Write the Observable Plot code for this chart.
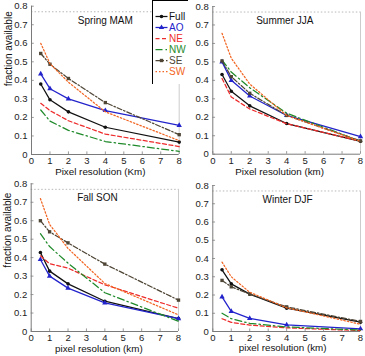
<!DOCTYPE html>
<html>
<head>
<meta charset="utf-8">
<script src="https://cdn.jsdelivr.net/npm/d3@7"></script>
<script src="https://cdn.jsdelivr.net/npm/@observablehq/plot@0.6"></script>
<style>
  html, body { margin: 0; padding: 0; background: #fff; overflow: hidden; }
  #chart { position: relative; width: 365px; height: 356px; overflow: hidden;
           font-family: "Liberation Sans", Arial, Helvetica, sans-serif; }
  #chart > svg { position: absolute; }
</style>
</head>
<body>
<div id="chart"></div>
<script>
// Pixel resolution (km) at which the fraction of available data was computed
const resolutionKm = [0.5, 1, 2, 4, 8];
const regions = ["Full", "AO", "NE", "NW", "SE", "SW"];
const xTicks = [0, 1, 2, 3, 4, 5, 6, 7, 8];
const yTicks = [0, 0.1, 0.2, 0.3, 0.4, 0.5, 0.6, 0.7, 0.8];

// Fraction available per region, one table per season
const springMAM = {
  Full: [0.38, 0.295, 0.23, 0.147, 0.067],
  AO:   [0.435, 0.355, 0.30, 0.237, 0.157],
  NE:   [0.276, 0.237, 0.182, 0.11, 0.043],
  NW:   [0.24, 0.18, 0.13, 0.07, 0.017],
  SE:   [0.545, 0.487, 0.41, 0.28, 0.107],
  SW:   [0.60, 0.49, 0.39, 0.23, 0.075]
};
const summerJJA = {
  Full: [0.432, 0.341, 0.262, 0.166, 0.07],
  AO:   [0.50, 0.40, 0.315, 0.21, 0.095],
  NE:   [0.41, 0.31, 0.245, 0.165, 0.07],
  NW:   [0.51, 0.445, 0.36, 0.222, 0.07],
  SE:   [0.505, 0.42, 0.33, 0.21, 0.072],
  SW:   [0.655, 0.52, 0.38, 0.21, 0.07]
};
const fallSON = {
  Full: [0.428, 0.327, 0.258, 0.164, 0.07],
  AO:   [0.39, 0.30, 0.235, 0.155, 0.07],
  NE:   [0.41, 0.367, 0.343, 0.253, 0.126],
  NW:   [0.53, 0.46, 0.37, 0.21, 0.055],
  SE:   [0.60, 0.54, 0.48, 0.365, 0.17],
  SW:   [0.72, 0.58, 0.45, 0.26, 0.09]
};
const winterDJF = {
  Full: [0.338, 0.261, 0.205, 0.128, 0.051],
  AO:   [0.19, 0.11, 0.072, 0.036, 0.015],
  NE:   [0.07, 0.05, 0.035, 0.02, 0.005],
  NW:   [0.10, 0.07, 0.045, 0.025, 0.008],
  SE:   [0.28, 0.245, 0.205, 0.135, 0.055],
  SW:   [0.38, 0.30, 0.215, 0.13, 0.04]
};

// Line style of each region
const regionStyle = {
  Full: { color: "#111111", dash: null,          symbol: "circle",   r: 1.8 },
  AO:   { color: "#2323cc", dash: null,          symbol: "triangle", r: 2.0 },
  NE:   { color: "#ee2b2b", dash: "4,2.5",       symbol: null },
  NW:   { color: "#1f8a2a", dash: "7,3,1.5,3",   symbol: null },
  SE:   { color: "#4e4535", dash: "5,2,1.5,2",   symbol: "square",   r: 1.9 },
  SW:   { color: "#f26522", dash: "1.5,2",       symbol: null }
};

const fmtY = d => d === 0 ? "0" : d3.format(".1f")(d);

function panel(cfg) {
  const rows = regions.flatMap(r =>
    cfg.values[r].map((v, i) => ({ region: r, km: resolutionKm[i], frac: v })));

  const marks = [
    // faint frame: dotted top line and right edge
    Plot.ruleY([0.77], { x1: 0, x2: 8, stroke: "#b8b8b8", strokeDasharray: "1.5,2" }),
    Plot.ruleX([8], { y1: 0, y2: 0.77, stroke: "#cccccc" }),
    // inward tick marks
    Plot.ruleY(yTicks, { x1: 0, x2: 0.15, stroke: "#9a9a9a" }),
    Plot.ruleX(xTicks, { y1: 0, y2: 0.014, stroke: "#9a9a9a" }),
    // axis lines
    Plot.ruleX([0], { y1: 0, y2: 0.8, stroke: "#7a7a7a" }),
    Plot.ruleY([0], { x1: 0, x2: 8, stroke: "#7a7a7a" }),
    Plot.axisX({ ticks: xTicks, tickSize: 0, tickPadding: 3, fontSize: 9.5, label: null }),
    Plot.axisY({ ticks: yTicks, tickSize: 0, tickPadding: 4, fontSize: 9.5, tickFormat: fmtY, label: null }),
    // season title
    Plot.text([cfg.title], { x: cfg.titleX, y: 0.722, fontSize: 10, fill: "#111" }),
    // x axis title
    Plot.text([cfg.xLabel], { frameAnchor: "bottom", dx: cfg.xLabelDx, dy: cfg.xLabelDy, fontSize: 9.8, fill: "#111" })
  ];
  if (cfg.yLabel) {
    marks.push(Plot.text([cfg.yLabel], {
      frameAnchor: "left", rotate: -90, dx: -23, dy: cfg.yLabelDy, fontSize: 10, fill: "#111"
    }));
  }
  for (const r of regions) {
    const s = regionStyle[r];
    const d = rows.filter(o => o.region === r);
    marks.push(Plot.line(d, {
      x: "km", y: "frac", stroke: s.color, strokeWidth: 1.25,
      strokeDasharray: s.dash ?? undefined
    }));
    if (s.symbol) {
      marks.push(Plot.dot(d, { x: "km", y: "frac", symbol: s.symbol, r: s.r, fill: s.color, stroke: "none" }));
    }
  }

  const svg = Plot.plot({
    width: cfg.width, height: cfg.height,
    marginLeft: cfg.ml, marginRight: cfg.mr, marginTop: cfg.mt, marginBottom: cfg.mb,
    x: { domain: [0, 8] },
    y: { domain: [0, 0.8] },
    style: { fontFamily: "Liberation Sans, Arial, sans-serif", color: "#222", background: "transparent" },
    marks
  });
  svg.style.left = cfg.left + "px";
  svg.style.top = cfg.top + "px";
  return svg;
}

// Legend key, built with Plot on an identity pixel scale
function legend() {
  const marks = [Plot.frame({ stroke: "#000", strokeWidth: 1 })];
  for (const r of regions) {
    const s = regionStyle[r];
    marks.push(Plot.link([r], {
      x1: () => 3, x2: () => 15, y1: d => d, y2: d => d,
      stroke: s.color, strokeWidth: 1.25, strokeDasharray: s.dash ?? undefined
    }));
    if (s.symbol) {
      marks.push(Plot.dot([r], { x: () => 9, y: d => d, symbol: s.symbol, r: s.r, fill: s.color }));
    }
    marks.push(Plot.text([r], { x: () => 16.5, y: d => d, text: d => d, textAnchor: "start", fill: s.color, fontSize: 10 }));
  }
  const svg = Plot.plot({
    width: 36, height: 84, margin: 0,
    x: { domain: [0, 36], range: [0, 36] },
    y: { type: "point", domain: regions, range: [9.5, 76.5] },
    axis: null,
    style: { fontFamily: "Liberation Sans, Arial, sans-serif", background: "#fff" },
    marks
  });
  svg.style.left = "152px";
  svg.style.top = "0px";
  return svg;
}

const chart = document.getElementById("chart");
chart.append(
  panel({ values: springMAM, title: "Spring MAM", titleX: 4.0, xLabel: "Pixel resolution (Km)",
          yLabel: "fraction available", yLabelDy: 6, xLabelDx: -5, xLabelDy: 20.5,
          left: 0, top: 0, width: 182, height: 180, ml: 31, mr: 3.3, mt: 5.7, mb: 26 }),
  panel({ values: summerJJA, title: "Summer JJA", titleX: 3.9, xLabel: "Pixel resolution (km)",
          yLabel: null, xLabelDx: -7, xLabelDy: 20.5,
          left: 182, top: 0, width: 183, height: 180, ml: 30.3, mr: 5, mt: 6, mb: 26.3 }),
  panel({ values: fallSON, title: "Fall SON", titleX: 3.6, xLabel: "pixel resolution (km)",
          yLabel: "fraction available", yLabelDy: 10, xLabelDx: -6, xLabelDy: 20.5,
          left: 0, top: 176, width: 182, height: 180, ml: 30.7, mr: 4, mt: 7.3, mb: 25 }),
  panel({ values: winterDJF, title: "Winter DJF", titleX: 4.05, xLabel: "pixel resolution (km)",
          yLabel: null, xLabelDx: -4, xLabelDy: 19.5,
          left: 182, top: 176, width: 183, height: 180, ml: 30.3, mr: 5, mt: 9, mb: 25 }),
  legend()
);
</script>
</body>
</html>
